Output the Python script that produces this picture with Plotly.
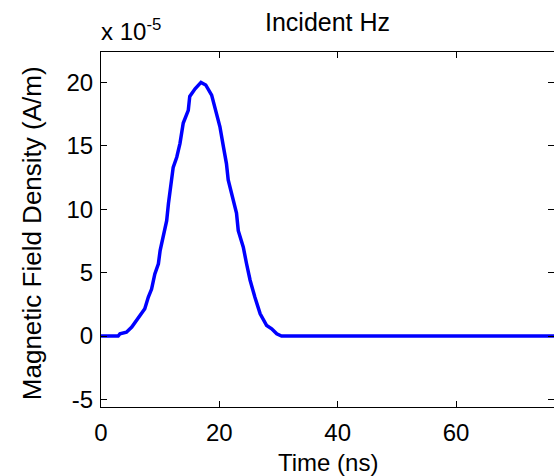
import plotly.graph_objects as go

# Data (Hz values in units of 1e-5 A/m)
time_ns = [0, 1, 2, 2.9, 3.2, 4.3, 5.2, 6.0, 7.4, 8.0, 8.55, 9.1, 9.7, 10.0, 10.5, 11.1,
           11.4, 11.9, 12.2, 12.8, 13.35, 13.9, 14.75, 15.0, 15.9, 16.9, 17.7, 18.7,
           19.3, 20.1, 20.7, 21.2, 21.5, 22.4, 22.9, 23.2, 24.05, 24.6, 25.2, 26.0,
           26.9, 28.0, 28.85, 29.7, 30.5, 40, 50, 60, 70, 80]
hz = [0, 0, 0, 0, 0.17, 0.3, 0.7, 1.2, 2.15, 3.07, 3.7, 4.9, 5.7, 6.76, 7.8, 9.1,
      10.45, 12.0, 13.3, 14.1, 15.2, 16.8, 17.8, 18.9, 19.5, 20.0, 19.8, 19.0,
      17.8, 16.5, 14.9, 13.6, 12.3, 10.7, 9.7, 8.3, 7.0, 5.7, 4.4, 3.07,
      1.75, 0.83, 0.57, 0.17, 0, 0, 0, 0, 0, 0]

x_ticks = [0, 20, 40, 60]
x_ticktext = ["0", "20", "40", "60"]
y_ticks = [-5, 0, 5, 10, 15, 20]
y_ticktext = ["-5", "0", "5", "10", "15", "20"]

FONT = "Liberation Sans, Arial, sans-serif"
FS = 24

fig = go.Figure()
fig.add_trace(go.Scatter(x=time_ns, y=hz, mode="lines",
                         line=dict(color="#0000FF", width=3.5), showlegend=False))

axis_common = dict(showgrid=False, zeroline=False, ticks="inside", ticklen=6,
                   tickcolor="black", tickwidth=1)
tickfont = dict(family=FONT, size=FS, color="black")

fig.update_layout(
    width=554, height=476,
    margin=dict(l=101, r=0, t=52, b=69),
    paper_bgcolor="white", plot_bgcolor="white",
    xaxis=dict(range=[0, 76.56], tickvals=x_ticks, ticktext=x_ticktext, showline=True,
               linecolor="black", linewidth=1, mirror="ticks", tickfont=tickfont,
               ticklabelstandoff=4, **axis_common),
    yaxis=dict(range=[-5.6, 22.4], tickvals=y_ticks, ticktext=y_ticktext, showline=True,
               linecolor="black", linewidth=1, mirror=False, tickfont=tickfont,
               ticklabelstandoff=2, **axis_common),
    yaxis2=dict(range=[-5.6, 22.4], tickvals=y_ticks, overlaying="y", side="right",
                showline=False, showticklabels=False, **axis_common),
    annotations=[
        dict(text="Incident Hz", x=0.5, y=1.0845, xref="paper", yref="paper",
             xanchor="center", yanchor="middle", showarrow=False,
             font=dict(family=FONT, size=25, color="black")),
        dict(text="x 10<sup>-5</sup>", x=-0.004, y=1.063,
             xref="paper", yref="paper",
             xanchor="left", yanchor="middle", showarrow=False,
             font=dict(family=FONT, size=FS, color="black")),
        dict(text="Time (ns)", x=0.5, y=-0.157, xref="paper", yref="paper",
             xanchor="center", yanchor="middle", showarrow=False,
             font=dict(family=FONT, size=FS, color="black")),
        dict(text="Magnetic Field Density (A/m)", x=-0.152, y=0.49, xref="paper", yref="paper",
             xanchor="center", yanchor="middle", showarrow=False, textangle=-90,
             font=dict(family=FONT, size=26, color="black")),
    ],
)
fig.add_trace(go.Scatter(x=[None], y=[None], yaxis="y2", showlegend=False, hoverinfo="skip"))

fig.write_html("out.html")
